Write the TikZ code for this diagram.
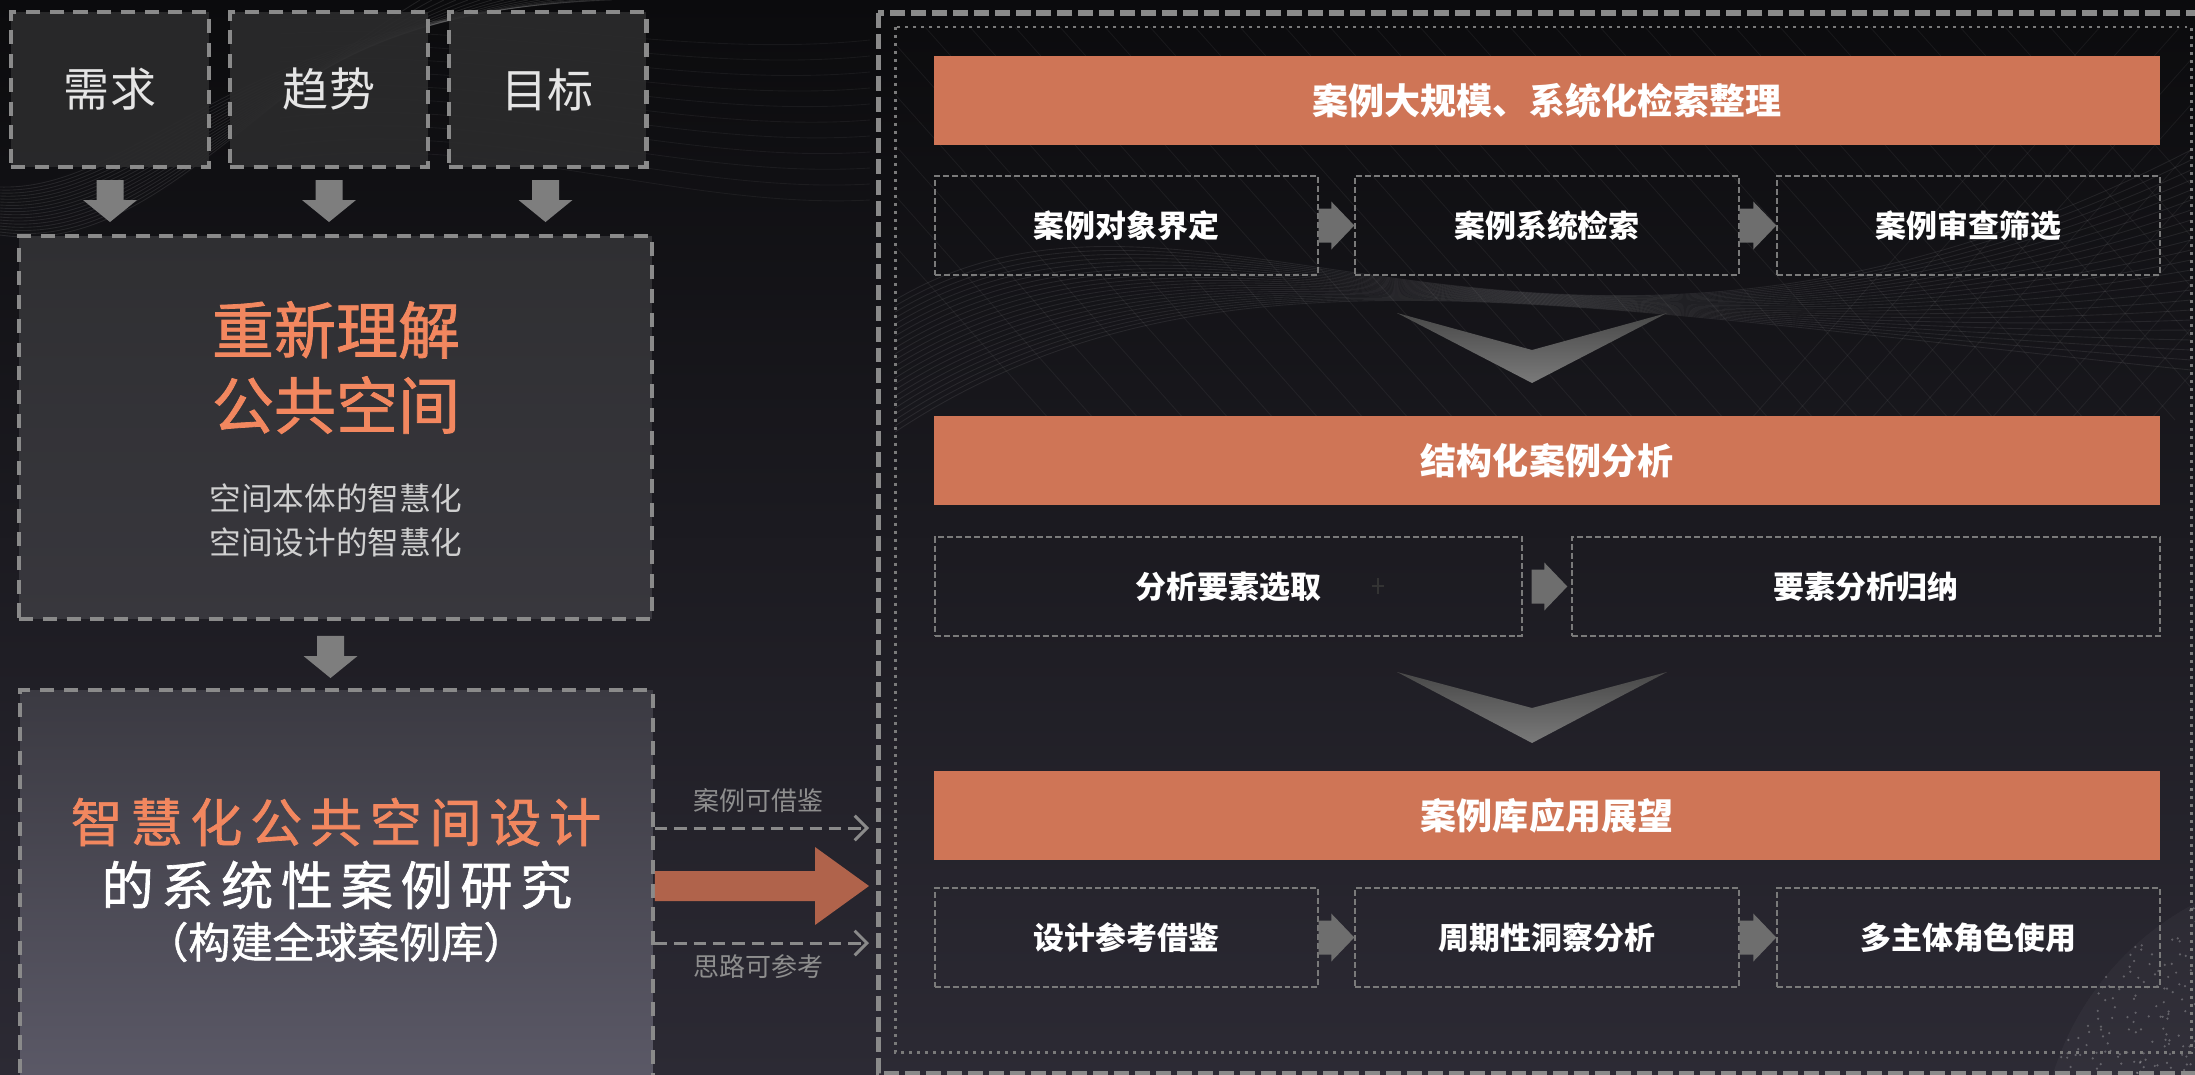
\documentclass[tikz,border=0pt]{standalone}
\usepackage{fontspec}
\setmainfont{Noto Sans CJK SC}
\newfontfamily\spacedfont[LetterSpace=15,FakeBold=1.3]{Noto Sans CJK SC}
\newfontfamily\medfont[FakeBold=1.3]{Noto Sans CJK SC}
\usetikzlibrary{arrows.meta,calc}
\definecolor{bgtop}{HTML}{0B0B0D}
\definecolor{bgbot}{HTML}{2C2A34}
\definecolor{dashgray}{HTML}{8A8A8A}
\definecolor{thingray}{HTML}{7A7A7A}
\definecolor{boxa}{HTML}{2B2B2C}
\definecolor{orangebar}{HTML}{CF7556}
\definecolor{orangetxt}{HTML}{F2875F}
\definecolor{bigorange}{HTML}{B0634B}
\definecolor{arrowgray}{HTML}{7E7E7E}
\definecolor{smallgray}{HTML}{6E6E6E}
\definecolor{labelgray}{HTML}{8E8E8E}
\definecolor{subgray}{HTML}{D0D0D0}
\definecolor{rethinktop}{HTML}{2F2F32}
\definecolor{rethinkbot}{HTML}{38373D}
\definecolor{studytop}{HTML}{3B3A42}
\definecolor{studybot}{HTML}{5C5A68}
\definecolor{chevtop}{HTML}{484848}
\definecolor{chevbot}{HTML}{7A7A7A}

% downward block arrow: #1 start, #2 tip
\newcommand{\downblock}[2]{%
  \fill[arrowgray] ($(#1)+(-13.5,0)$) -- ($(#2)+(-13.5,-22)$) -- ($(#2)+(-27,-22)$) -- (#2)
    -- ($(#2)+(27,-22)$) -- ($(#2)+(13.5,-22)$) -- ($(#1)+(13.5,0)$) -- cycle;}
% rightward block arrow: #1 colour, #2 start, #3 tip, #4 shaft half, #5 head half, #6 head length
\newcommand{\rightblock}[6]{%
  \fill[#1] ($(#2)+(0,-#4)$) -- ($(#3)+(-#6,-#4)$) -- ($(#3)+(-#6,-#5)$) -- (#3)
    -- ($(#3)+(-#6,#5)$) -- ($(#3)+(-#6,#4)$) -- ($(#2)+(0,#4)$) -- cycle;}

\tikzset{
  lbox/.style={draw=dashgray, line width=2.3pt, dash pattern=on 8pt off 5.5pt,
    fill=boxa, fill opacity=0.92, text opacity=1, inner sep=0pt,
    minimum width=3.96cm, minimum height=3.1cm, text=white!90!black,
    font=\fontsize{26.2pt}{30pt}\selectfont},
  bigbox/.style={draw=dashgray, line width=2.3pt, dash pattern=on 8pt off 5.5pt,
    inner sep=0pt, minimum width=12.66cm},
  bar/.style={fill=orangebar, inner sep=0pt, minimum width=24.52cm, minimum height=1.78cm,
    text=white, font=\bfseries\fontsize{20.5pt}{24pt}\selectfont},
  sbox/.style={draw=thingray, line width=0.85pt, dash pattern=on 3.4pt off 1.7pt,
    inner sep=0pt, minimum height=1.98cm, text=white,
    font=\bfseries\fontsize{17.6pt}{20pt}\selectfont},
  lab/.style={text=labelgray, inner sep=0pt, font=\fontsize{14.8pt}{17pt}\selectfont},
  dasharrow/.style={draw=dashgray, line width=1.7pt, dash pattern=on 7pt off 4pt,
    -{Straight Barb[length=7pt,width=14pt]}},
  deco/.style={white, line width=0.5pt}
}

\begin{document}
\begin{tikzpicture}[x=0.02cm, y=-0.02cm]
\useasboundingbox (0,0) rectangle (2195,1075);
\shade[top color=bgtop, bottom color=bgbot] (0,0) rectangle (2195,1075);

% ---------- background decoration ----------
\begin{scope}
  \clip (0,0) rectangle (870,260);
  \foreach \i in {0,...,16} {
    \draw[deco, opacity=0.09] (0,{235-\i*3}) .. controls (140,{255-\i*4}) and (240,{110-\i*6}) .. ({420+\i*12},0);
  }
  \foreach \i in {0,...,10} {
    \draw[deco, opacity=0.05] (280,{20+\i*14}) .. controls (480,{8+\i*12}) and (680,{60+\i*15}) .. (870,{40+\i*16});
  }
\end{scope}
\begin{scope}
  \clip (895,27) rectangle (2191,1052);
  \foreach \i in {0,...,22} {
    \draw[deco, opacity=0.08] (895,{300+\i*6}) .. controls (1200,{120+\i*5}) and (1550,{480-\i*8}) .. (2191,{150+\i*10});
  }
  \foreach \i in {0,...,30} {
    \draw[deco, opacity=0.05] ({700+\i*45},27) -- ({1050+\i*45},420);
  }
  \foreach \i in {0,...,12} {
    \draw[deco, opacity=0.05] ({1750+\i*40},420) -- ({2100+\i*40},27);
  }
\end{scope}
\begin{scope}
  \clip (0,0) rectangle (2195,1075);
  \fill[white, opacity=0.03] (2330,1160) circle[radius=5.8cm];
  \pgfmathsetseed{42}
  \foreach \i in {1,...,450} {
    \pgfmathsetmacro{\rr}{290*sqrt(rnd)}
    \pgfmathsetmacro{\aa}{180+90*rnd}
    \fill[white, opacity=0.25] ({2330+\rr*cos(\aa)},{1160+\rr*sin(\aa)}) circle[radius=0.7pt];
  }
\end{scope}

% ---------- left column ----------
\node[lbox] (need)  at (110,89.5)   {需求};
\node[lbox] (trend) at (329,89.5)   {趋势};
\node[lbox] (goal)  at (547.5,89.5) {目标};

\node[bigbox, minimum height=7.66cm, top color=rethinktop, bottom color=rethinkbot] (rethink) at (335.5,427.5) {};
\node[text=orangetxt, inner sep=0pt, font=\medfont\fontsize{35.3pt}{40pt}\selectfont] (rt1) at (336,330) {重新理解};
\node[text=orangetxt, inner sep=0pt, font=\medfont\fontsize{35.3pt}{40pt}\selectfont] (rt2) at (336,405) {公共空间};
\node[text=subgray, inner sep=0pt, font=\fontsize{18pt}{22pt}\selectfont] (rt3) at (336,498) {空间本体的智慧化};
\node[text=subgray, inner sep=0pt, font=\fontsize{18pt}{22pt}\selectfont] (rt4) at (336,542) {空间设计的智慧化};

\node[bigbox, minimum height=8.1cm, top color=studytop, bottom color=studybot] (study) at (336.5,892.5) {};
\node[text=orangetxt, inner sep=0pt, font=\spacedfont\fontsize{29.6pt}{34pt}\selectfont] (st1) at (336,822) {智慧化公共空间设计};
\node[text=white, inner sep=0pt, font=\spacedfont\fontsize{29.6pt}{34pt}\selectfont] (st2) at (337,885) {的系统性案例研究};
\node[text=white, inner sep=0pt, font=\medfont\fontsize{24pt}{28pt}\selectfont] (st3) at (336,942) {（构建全球案例库）};

% down arrows
\coordinate (d1s) at ($(need.south)+(0,11)$);
\coordinate (d1e) at ($(need.south |- rethink.north)+(0,-12)$);
\coordinate (d2s) at ($(trend.south)+(0,11)$);
\coordinate (d2e) at ($(trend.south |- rethink.north)+(0,-12)$);
\coordinate (d3s) at ($(goal.south)+(-2,11)$);
\coordinate (d3e) at ($(goal.south |- rethink.north)+(-2,-12)$);
\coordinate (d4s) at ($(rethink.south)+(-5,15)$);
\coordinate (d4e) at ($(rethink.south |- study.north)+(-5,-10)$);
\downblock{d1s}{d1e}
\downblock{d2s}{d2e}
\downblock{d3s}{d3e}
\downblock{d4s}{d4e}

% ---------- right panel frames ----------
\draw[dashgray, line width=2.85pt, dash pattern=on 8.5pt off 3.4pt] (878,13) rectangle (2215,1073);
\draw[thingray, line width=1.7pt, dash pattern=on 1.7pt off 2.85pt] (895,27) rectangle (2191,1052);

% connectors from left study box to panel
\coordinate (t1) at (869,828);
\coordinate (t2) at (869,886);
\coordinate (t3) at (869,943);
\coordinate (o1) at (study.east |- t1);
\coordinate (o2) at (study.east |- t2);
\coordinate (o3) at (study.east |- t3);
\draw[dasharrow] (o1) -- (t1);
\draw[dasharrow] (o3) -- (t3);
\rightblock{bigorange}{o2}{t2}{15}{39}{54}
\node[lab] (l1) at (758,801) {案例可借鉴};
\node[lab] (l2) at (758,967) {思路可参考};

% ---------- stage 1 ----------
\node[bar] (bar1) at (1547,100.5) {案例大规模、系统化检索整理};
\node[sbox, minimum width=7.66cm] (c1) at (1126.5,225.5) {案例对象界定};
\node[sbox, minimum width=7.68cm] (c2) at (1547,225.5)   {案例系统检索};
\node[sbox, minimum width=7.66cm] (c3) at (1968.5,225.5) {案例审查筛选};
\rightblock{smallgray}{c1.east}{c2.west}{17}{24}{23}
\rightblock{smallgray}{c2.east}{c3.west}{17}{24}{23}

\shade[top color=chevtop, bottom color=chevbot]
  (1397,313) -- (1532,350) -- (1667,313) -- (1532,383) -- cycle;

% ---------- stage 2 ----------
\node[bar] (bar2) at (1547,460.5) {结构化案例分析};
\node[sbox, minimum width=11.74cm] (e1) at (1228.5,586.5) {分析要素选取};
\node[sbox, minimum width=11.76cm] (e2) at (1866,586.5)   {要素分析归纳};
\coordinate (e1a) at ($(e1.east)+(9,0)$);
\coordinate (e2a) at ($(e2.west)+(-4,0)$);
\rightblock{smallgray}{e1a}{e2a}{17}{24}{23}
\draw[white!20!black, line width=1.2pt] (1372,586) -- (1384,586) (1378,578) -- (1378,594);

\shade[top color=chevtop, bottom color=chevbot]
  (1397,672) -- (1532,708) -- (1667,672) -- (1532,743) -- cycle;

% ---------- stage 3 ----------
\node[bar] (bar3) at (1547,815.5) {案例库应用展望};
\node[sbox, minimum width=7.66cm] (g1) at (1126.5,937.5) {设计参考借鉴};
\node[sbox, minimum width=7.68cm] (g2) at (1547,937.5)   {周期性洞察分析};
\node[sbox, minimum width=7.66cm] (g3) at (1968.5,937.5) {多主体角色使用};
\rightblock{smallgray}{g1.east}{g2.west}{17}{24}{23}
\rightblock{smallgray}{g2.east}{g3.west}{17}{24}{23}
\end{tikzpicture}
\end{document}
